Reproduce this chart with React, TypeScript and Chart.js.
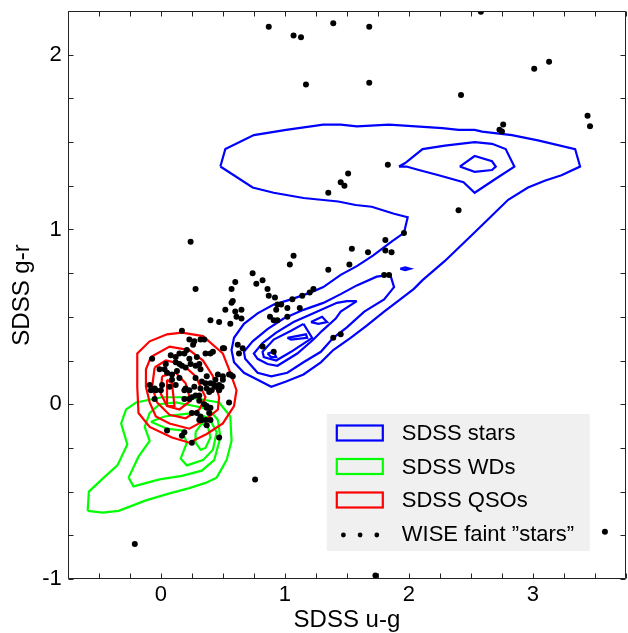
import React, { useEffect, useRef } from 'react';
import { Chart, registerables } from 'chart.js';

Chart.register(...registerables);

const FONT = '"Liberation Sans", Arial, Helvetica, sans-serif';

// ---- axes ----
const xMin = -0.75;
const xMax = 3.75;
const yMin = -1;
const yMax = 2.25;
const tickStep = 0.25;
const xLabeledTicks = [0, 1, 2, 3];
const yLabeledTicks = [-1, 0, 1, 2];
const xTitle = 'SDSS u-g';
const yTitle = 'SDSS g-r';

// ---- legend ----
const legendLabels = ['SDSS stars', 'SDSS WDs', 'SDSS QSOs', 'WISE faint \u201Dstars\u201D'];
const seriesColors = ['#0000ff', '#00ff00', '#ff0000', '#000000'];

type P = [number, number];

// ---- SDSS stars contours (u-g, g-r) ----
const starsOuter: P[] = [
  [0.48, 1.36], [0.52, 1.46], [0.75, 1.54], [1.01, 1.57], [1.31, 1.6], [1.45, 1.6], [1.58, 1.59],
  [1.84, 1.6], [2.27, 1.58], [2.4, 1.57], [2.53, 1.57], [2.59, 1.56], [2.83, 1.54], [3.04, 1.51],
  [3.34, 1.46], [3.38, 1.36], [3.23, 1.31], [3.1, 1.28], [2.96, 1.24], [2.8, 1.17], [2.67, 1.08],
  [2.51, 0.97], [2.29, 0.82], [2.11, 0.71], [2.04, 0.66], [1.93, 0.6], [1.8, 0.53], [1.66, 0.45],
  [1.53, 0.38], [1.39, 0.31], [1.29, 0.24], [1.15, 0.17], [1.01, 0.13], [0.89, 0.1], [0.78, 0.14],
  [0.67, 0.18], [0.59, 0.24], [0.57, 0.31], [0.59, 0.38], [0.67, 0.46], [0.78, 0.52], [0.91, 0.57],
  [1.05, 0.6], [1.21, 0.64], [1.31, 0.67], [1.45, 0.74], [1.58, 0.79], [1.71, 0.85], [1.86, 0.93],
  [1.96, 0.98], [1.99, 1.07], [1.88, 1.09], [1.7, 1.13], [1.57, 1.14], [1.43, 1.16], [1.15, 1.18],
  [0.91, 1.21], [0.74, 1.24],
];
const starsUpper2: P[] = [
  [1.92, 1.36], [1.97, 1.38], [2.11, 1.46], [2.29, 1.48], [2.53, 1.5], [2.67, 1.49], [2.78, 1.46],
  [2.85, 1.36], [2.7, 1.29], [2.53, 1.21], [2.44, 1.27], [2.24, 1.31], [2.08, 1.34], [1.98, 1.36],
];
const starsUpper3: P[] = [
  [2.41, 1.36], [2.53, 1.42], [2.67, 1.39], [2.7, 1.36], [2.67, 1.34], [2.53, 1.33],
];
const starsBand2: P[] = [
  [1.85, 0.74], [1.88, 0.67], [1.8, 0.6], [1.64, 0.53], [1.5, 0.44], [1.39, 0.38], [1.29, 0.3],
  [1.15, 0.24], [1.02, 0.18], [0.89, 0.16], [0.78, 0.18], [0.68, 0.26], [0.67, 0.3], [0.74, 0.36],
  [0.86, 0.43], [0.99, 0.49], [1.15, 0.54], [1.31, 0.58], [1.45, 0.63], [1.58, 0.68], [1.74, 0.73],
];
const starsBand3: P[] = [
  [1.58, 0.59], [1.45, 0.53], [1.41, 0.49], [1.3, 0.42], [1.23, 0.37], [1.1, 0.29], [0.94, 0.22],
  [0.86, 0.23], [0.78, 0.26], [0.75, 0.29], [0.82, 0.35], [0.93, 0.41], [1.07, 0.47], [1.23, 0.52],
  [1.42, 0.58], [1.5, 0.59],
];
const starsBand4: P[] = [
  [1.15, 0.46], [1.22, 0.38], [1.05, 0.3], [0.93, 0.25], [0.83, 0.27], [0.82, 0.3], [0.91, 0.37], [1.05, 0.42],
];
const starsBand5: P[] = [[0.86, 0.29], [0.91, 0.3], [0.93, 0.27], [0.89, 0.27]];
const starsLoopA: P[] = [[1.21, 0.47], [1.3, 0.5], [1.34, 0.47], [1.27, 0.46]];
const starsLoopB: P[] = [[1.02, 0.38], [1.17, 0.4], [1.18, 0.38], [1.05, 0.37]];
const starsBlob: P[] = [[1.93, 0.775], [1.97, 0.783], [2.01, 0.775], [1.97, 0.767]];

// ---- SDSS white dwarf contours ----
const wd1: P[] = [
  [-0.59, -0.61], [-0.58, -0.5], [-0.46, -0.42], [-0.35, -0.35], [-0.27, -0.23], [-0.32, -0.11],
  [-0.28, -0.03], [-0.2, 0.01], [0.01, 0.04], [0.23, 0.04], [0.47, 0.01], [0.56, -0.07], [0.57, -0.21],
  [0.53, -0.32], [0.45, -0.42], [0.36, -0.45], [0.23, -0.48], [0.07, -0.51], [-0.12, -0.55],
  [-0.34, -0.61], [-0.47, -0.62],
];
const wd2: P[] = [
  [-0.26, -0.42], [-0.22, -0.47], [-0.01, -0.43], [0.17, -0.41], [0.33, -0.38], [0.43, -0.32],
  [0.48, -0.19], [0.46, -0.09], [0.39, -0.03], [0.27, -0.01], [0.12, 0.01], [-0.01, 0.0], [-0.09, -0.05],
  [-0.13, -0.13], [-0.09, -0.21], [-0.18, -0.3],
];
const wd3: P[] = [
  [-0.08, -0.1], [0.03, -0.07], [0.15, -0.06], [0.27, -0.05], [0.39, -0.08], [0.45, -0.16], [0.42, -0.26],
  [0.34, -0.32], [0.21, -0.35], [0.16, -0.31], [0.21, -0.22], [0.17, -0.15], [0.05, -0.14],
];
const wd4: P[] = [
  [0.28, -0.16], [0.33, -0.11], [0.38, -0.13], [0.4, -0.19], [0.36, -0.25], [0.32, -0.26], [0.28, -0.22],
];

// ---- SDSS QSO contours ----
const qso1: P[] = [
  [0.17, 0.41], [0.34, 0.39], [0.5, 0.29], [0.55, 0.2], [0.61, 0.08], [0.59, -0.01], [0.5, -0.11],
  [0.37, -0.17], [0.23, -0.22], [0.09, -0.19], [-0.09, -0.13], [-0.18, -0.05], [-0.19, 0.1],
  [-0.19, 0.29], [-0.09, 0.36], [0.05, 0.4],
];
const qso2: P[] = [
  [-0.08, 0.27], [-0.12, 0.2], [-0.12, 0.1], [-0.09, 0.01], [-0.04, -0.07], [0.07, -0.11], [0.23, -0.14],
  [0.36, -0.09], [0.46, -0.03], [0.47, 0.04], [0.42, 0.16], [0.34, 0.25], [0.23, 0.31], [0.07, 0.33],
];
const qso3: P[] = [
  [-0.05, 0.21], [-0.07, 0.1], [-0.03, 0.01], [0.07, -0.06], [0.2, -0.08], [0.31, -0.03], [0.36, 0.04],
  [0.28, 0.16], [0.17, 0.23], [0.04, 0.25],
];
const qso4: P[] = [[0.01, 0.16], [0.0, 0.06], [0.05, -0.01], [0.15, -0.03], [0.24, 0.02], [0.2, 0.12], [0.12, 0.18]];
const qso5: P[] = [[0.05, 0.14], [0.05, -0.01], [0.11, -0.01], [0.09, 0.12]];

// ---- WISE faint "stars" (u-g, g-r) ----
const wiseFaintStars: P[] = [
  [0.87, 2.16], [1.39, 2.18], [1.07, 2.11], [1.13, 2.1], [1.17, 1.83], [1.68, 2.16], [2.58, 2.245],
  [1.68, 1.84], [2.42, 1.77], [3.01, 1.92], [3.13, 1.96], [3.44, 1.65], [3.46, 1.59], [2.76, 1.6],
  [2.73, 1.57], [2.75, 1.56], [1.83, 1.37], [1.51, 1.32], [1.45, 1.27], [1.48, 1.25], [1.35, 1.21],
  [2.4, 1.11], [1.96, 0.98], [1.81, 0.94], [1.54, 0.89], [1.67, 0.87], [1.81, 0.88], [1.86, 0.87],
  [1.52, 0.8], [1.35, 0.77], [1.8, 0.74], [1.84, 0.74], [0.24, 0.93], [1.07, 0.85], [1.04, 0.8],
  [0.28, 0.66], [0.6, 0.7], [0.57, 0.66], [0.74, 0.75], [0.82, 0.71], [0.77, 0.69], [0.86, 0.66],
  [0.87, 0.62], [0.92, 0.61], [1.23, 0.66], [1.2, 0.64], [1.14, 0.62], [1.06, 0.6], [0.94, 0.57],
  [0.97, 0.57], [0.58, 0.59], [0.57, 0.58], [0.52, 0.54], [0.65, 0.54], [0.61, 0.5], [0.56, 0.46],
  [0.93, 0.54], [1.02, 0.55], [1.12, 0.55], [0.88, 0.5], [0.91, 0.48], [0.94, 0.48], [1.02, 0.5],
  [1.39, 0.38], [1.45, 0.4], [0.82, 0.33], [0.91, 0.3], [0.62, 0.34], [0.66, 0.32], [0.63, 0.29],
  [0.51, 0.32], [0.55, 0.17], [0.58, 0.16], [0.4, 0.48], [0.47, 0.47], [0.17, 0.42], [-0.21, -0.8],
  [0.76, -0.43], [1.73, -0.98], [3.58, -0.73], [0.6, 0.53], [0.65, 0.49],
  [0.23, 0.37], [0.27, 0.36], [0.32, 0.37], [0.35, 0.37], [0.4, 0.29], [0.36, 0.29], [0.5, 0.32],
  [0.19, 0.29], [0.21, 0.31], [0.23, 0.26], [0.29, 0.27], [0.15, 0.29], [0.12, 0.27], [0.08, 0.28],
  [-0.07, 0.26], [0.15, 0.23], [0.2, 0.21], [0.24, 0.23], [0.28, 0.22], [0.32, 0.2], [0.03, 0.2],
  [0.05, 0.18], [0.09, 0.17], [0.13, 0.19], [0.15, 0.15], [0.28, 0.15], [0.33, 0.13], [0.44, 0.14],
  [0.46, 0.17], [0.5, 0.16], [0.47, 0.11], [0.41, 0.08], [0.32, 0.09], [0.27, 0.1], [0.2, 0.09],
  [0.01, 0.11], [0.0, 0.08], [-0.05, 0.09], [-0.09, 0.11], [-0.05, 0.03], [0.19, 0.03], [0.25, 0.04],
  [0.31, 0.05], [0.35, 0.0], [0.39, -0.05], [0.32, -0.07], [0.33, -0.09], [0.36, -0.09], [0.37, -0.12],
  [0.55, 0.01], [0.56, 0.17], [0.05, -0.15], [0.19, -0.16], [0.17, -0.18], [0.25, -0.22], [0.47, -0.19],
  [0.42, 0.3], [0.5, 0.14], [0.49, 0.1], [0.44, 0.1], [-0.04, 0.08], [0.12, 0.11], [0.4, -0.02],
  [0.25, -0.05], [0.29, -0.05], [-0.01, 0.2], [0.37, 0.16], [0.12, 0.24], [0.04, 0.23], [0.4, 0.12],
  [0.23, 0.03], [-0.08, 0.08], [0.26, 0.34], [0.17, 0.22], [0.31, 0.23], [0.09, 0.14], [0.36, 0.12],
  [0.43, 0.11], [0.37, 0.09], [0.23, 0.08], [0.19, 0.08], [0.07, 0.1], [0.39, 0.07], [0.37, -0.01],
  [0.4, -0.09], [0.31, -0.09], [0.47, 0.08], [0.37, -0.02], [0.28, 0.05], [0.31, 0.02],
];

const starContours = [starsOuter, starsUpper2, starsUpper3, starsBand2, starsBand3, starsBand4, starsBand5, starsLoopA, starsLoopB, starsBlob];
const wdContours = [wd1, wd2, wd3, wd4];
const qsoContours = [qso1, qso2, qso3, qso4, qso5];

const isLabeled = (v: number, list: number[]) =>
  Math.abs(v - Math.round(v)) < 1e-6 && list.includes(Math.round(v));

const framePlugin = {
  id: 'frameTicks',
  afterDatasetsDraw(chart: any) {
    const { ctx, chartArea } = chart;
    const { left, right, top, bottom } = chartArea;
    const xs = chart.scales.x;
    const ys = chart.scales.y;
    const len = 5;
    ctx.save();
    ctx.strokeStyle = '#222';
    ctx.lineWidth = 1;
    ctx.beginPath();
    const L = Math.round(left) + 0.5;
    const R = Math.round(right) - 0.5;
    const T = Math.round(top) + 0.5;
    const B = Math.round(bottom) - 0.5;
    ctx.rect(L, T, R - L, B - T);
    xs.ticks.forEach((t: any) => {
      const px = Math.round(xs.getPixelForValue(t.value)) + 0.5;
      ctx.moveTo(px, B); ctx.lineTo(px, B - len);
      ctx.moveTo(px, T); ctx.lineTo(px, T + len);
    });
    ys.ticks.forEach((t: any) => {
      const py = Math.round(ys.getPixelForValue(t.value)) + 0.5;
      ctx.moveTo(L, py); ctx.lineTo(L + len, py);
      ctx.moveTo(R, py); ctx.lineTo(R - len, py);
    });
    ctx.stroke();
    ctx.restore();
  },
  afterDraw(chart: any) {
    const { ctx, chartArea } = chart;
    const bx = chartArea.left + 259;
    const by = chartArea.top + 403;
    const bw = 263;
    const bh = 137;
    ctx.save();
    ctx.fillStyle = '#f0f0f0';
    ctx.fillRect(bx, by, bw, bh);
    const rows = [19, 52.5, 86, 120];
    ctx.font = `22px ${FONT}`;
    ctx.textBaseline = 'middle';
    ctx.textAlign = 'left';
    legendLabels.forEach((lab, i) => {
      const cy = by + rows[i];
      if (i < 3) {
        ctx.strokeStyle = seriesColors[i];
        ctx.lineWidth = 2.2;
        ctx.strokeRect(bx + 10, cy - 7.5, 46, 15);
      } else {
        ctx.fillStyle = seriesColors[i];
        [16.6, 33.3, 50].forEach((dx) => {
          ctx.beginPath();
          ctx.arc(bx + dx, cy + 1, 2.4, 0, Math.PI * 2);
          ctx.fill();
        });
      }
      ctx.fillStyle = '#000';
      ctx.fillText(lab, bx + 75, cy + 1);
    });
    ctx.restore();
  },
};

export default function App() {
  const ref = useRef<HTMLCanvasElement | null>(null);

  useEffect(() => {
    if (!ref.current) return;
    const toXY = (pts: P[]) => pts.map(([x, y]) => ({ x, y }));
    const closed = (pts: P[]) => toXY(pts.concat([pts[0]]));
    const contourDs = (lines: P[][], color: string, order: number) =>
      lines.map((ln) => ({
        type: 'scatter' as const,
        data: closed(ln),
        showLine: true,
        borderColor: color,
        backgroundColor: color,
        borderWidth: 2.2,
        pointRadius: 0,
        pointHoverRadius: 0,
        fill: false,
        tension: 0,
        order,
        clip: 0,
      }));

    const datasets: any[] = [
      {
        type: 'scatter',
        label: legendLabels[3],
        data: toXY(wiseFaintStars),
        pointRadius: 3,
        pointBackgroundColor: '#000',
        pointBorderWidth: 0,
        showLine: false,
        order: 0,
        clip: 0,
      },
      ...contourDs(qsoContours, seriesColors[2], 1),
      ...contourDs(wdContours, seriesColors[1], 2),
      ...contourDs(starContours, seriesColors[0], 3),
    ];

    const chart = new Chart(ref.current, {
      type: 'scatter',
      data: { datasets },
      options: {
        responsive: false,
        animation: false,
        events: [],
        layout: { padding: { top: 11, right: 2, bottom: 0, left: 0 } },
        plugins: { legend: { display: false }, tooltip: { enabled: false } },
        scales: {
          x: {
            type: 'linear',
            position: 'bottom',
            min: xMin,
            max: xMax,
            afterFit: (s: any) => { s.height = 54; s.paddingLeft = 0; s.paddingRight = 0; },
            grid: { display: false, drawTicks: false },
            border: { display: false },
            ticks: {
              stepSize: tickStep,
              autoSkip: false,
              maxRotation: 0,
              padding: 3,
              color: '#000',
              font: { family: FONT, size: 22 },
              callback: (v: any) => (isLabeled(Number(v), xLabeledTicks) ? String(Math.round(Number(v))) : ''),
            },
            title: {
              display: true,
              text: xTitle,
              color: '#000',
              font: { family: FONT, size: 24, lineHeight: 1.05 },
              padding: { top: 0, bottom: 0 },
            },
          },
          y: {
            type: 'linear',
            min: yMin,
            max: yMax,
            afterFit: (s: any) => { s.width = 67.8; s.paddingTop = 0; s.paddingBottom = 0; },
            grid: { display: false, drawTicks: false },
            border: { display: false },
            ticks: {
              stepSize: tickStep,
              autoSkip: false,
              padding: 6,
              color: '#000',
              font: { family: FONT, size: 22 },
              callback: (v: any) => (isLabeled(Number(v), yLabeledTicks) ? String(Math.round(Number(v))) : ''),
            },
            title: {
              display: true,
              text: yTitle,
              color: '#000',
              font: { family: FONT, size: 24 },
              padding: { top: 8, bottom: 0 },
            },
          },
        },
      },
      plugins: [framePlugin],
    });
    return () => chart.destroy();
  }, []);

  return (
    <div style={{ position: 'absolute', left: 0, top: 0, width: 628, height: 633, overflow: 'hidden', background: '#fff' }}>
      <canvas ref={ref} width={630} height={633} style={{ display: 'block' }} />
    </div>
  );
}
